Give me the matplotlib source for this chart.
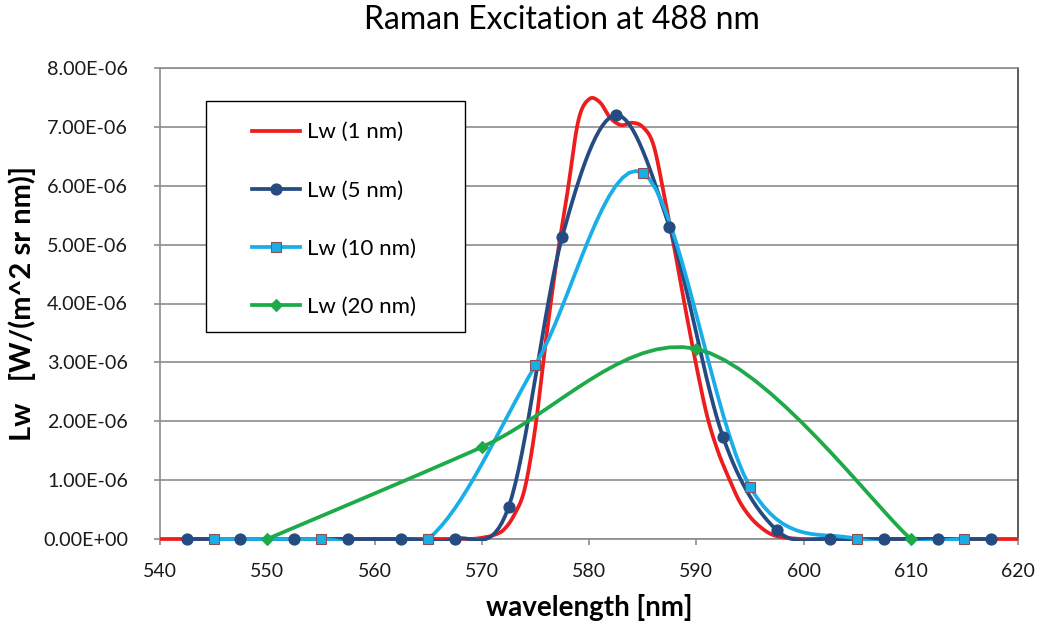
import numpy as np
import matplotlib.pyplot as plt
from matplotlib.lines import Line2D
from matplotlib.patches import Rectangle
from matplotlib.ticker import FuncFormatter, MultipleLocator

plt.rcParams['font.family'] = ['Lato', 'DejaVu Sans']

# --- data (values in W/(m^2 sr nm)) ---
wl_1nm = list(range(540, 621))
lw_1nm = [0, 0, 0, 0, 0, 0, 0, 0, 0, 0,            # 540-549
          0, 0, 0, 0, 0, 0, 0, 0, 0, 0,            # 550-559
          0, 0, 0, 0, 0, 0, 0, 0, 0, 0,            # 560-569
          0.02e-6, 0.06e-6, 0.15e-6, 0.40e-6, 0.85e-6,
          1.90e-6, 3.40e-6, 4.75e-6, 5.90e-6, 7.10e-6,  # 570-579
          7.47e-6, 7.42e-6, 7.15e-6, 7.03e-6, 7.07e-6,
          7.00e-6, 6.70e-6, 5.85e-6, 4.90e-6, 3.90e-6,  # 580-589
          2.95e-6, 2.10e-6, 1.50e-6, 1.05e-6, 0.65e-6,
          0.38e-6, 0.20e-6, 0.08e-6, 0.03e-6, 0.01e-6,  # 590-599
          0, 0, 0, 0, 0, 0, 0, 0, 0, 0,            # 600-609
          0, 0, 0, 0, 0, 0, 0, 0, 0, 0,            # 610-619
          0]                                       # 620

wl_5nm = [542.5, 547.5, 552.5, 557.5, 562.5, 567.5, 572.5, 577.5,
          582.5, 587.5, 592.5, 597.5, 602.5, 607.5, 612.5, 617.5]
lw_5nm = [0, 0, 0, 0, 0, 0, 0.54e-6, 5.13e-6,
          7.20e-6, 5.30e-6, 1.73e-6, 0.15e-6, 0, 0, 0, 0]

wl_10nm = [545, 555, 565, 575, 585, 595, 605, 615]
lw_10nm = [0, 0, 0, 2.95e-6, 6.22e-6, 0.89e-6, 0, 0]

wl_20nm = [550, 570, 590, 610]
lw_20nm = [0, 1.56e-6, 3.23e-6, 0]

labels = ['Lw (1 nm)', 'Lw (5 nm)', 'Lw (10 nm)', 'Lw (20 nm)']


def smooth(xs, ys, n=16):
    # Excel-style smoothed line (Catmull-Rom through the points)
    x = np.r_[xs[0], xs, xs[-1]].astype(float)
    y = np.r_[ys[0], ys, ys[-1]].astype(float)
    t = np.linspace(0, 1, n, endpoint=False)[:, None]
    def seg(p):
        p0, p1, p2, p3 = p[:-3], p[1:-2], p[2:-1], p[3:]
        v = 0.5 * (2 * p1 + (-p0 + p2) * t + (2 * p0 - 5 * p1 + 4 * p2 - p3) * t ** 2
                   + (-p0 + 3 * p1 - 3 * p2 + p3) * t ** 3)
        return np.r_[v.T.ravel(), p[-2]]
    return seg(x), seg(y)


fig = plt.figure(figsize=(10.42, 6.28), dpi=100)
ax = fig.add_axes([160 / 1042, 1 - 539 / 628, 858 / 1042, 471 / 628])

series = [
    (wl_1nm, lw_1nm, '#EE1C1C', None, 0, '#EE1C1C'),
    (wl_5nm, lw_5nm, '#254C82', 'o', 8.0, '#254C82'),
    (wl_10nm, lw_10nm, '#1AAEE8', 's', 7.0, '#8B5050'),
    (wl_20nm, lw_20nm, '#1DAA48', 'D', 6.5, '#1DAA48'),
]

clip = Rectangle((0, -0.005), 1, 1.01, transform=ax.transAxes)
handles = []
for i, (xs, ys, col, mk, ms, mec) in enumerate(series):
    sx, sy = smooth(xs, ys)
    ln, = ax.plot(sx, sy, color=col, lw=2.7, zorder=3 + i, solid_capstyle='round')
    ln.set_clip_path(clip)
    if mk:
        ax.plot(xs, ys, ls='none', marker=mk, ms=ms, mfc=col, mec=mec,
                mew=0.8, zorder=10 + i, clip_on=False)
    handles.append(Line2D([], [], color=col, lw=2.7, marker=mk, ms=ms,
                          mfc=col, mec=mec, mew=0.8))

ax.set_xlim(540, 620)
ax.set_ylim(0, 8e-6)
ax.xaxis.set_major_locator(MultipleLocator(10))
ax.yaxis.set_major_locator(MultipleLocator(1e-6))
ax.yaxis.set_major_formatter(FuncFormatter(lambda v, p: '%.2E' % v))
ax.grid(axis='y', color='#8C8C8C', lw=1.2, zorder=0)
ax.set_axisbelow(True)
for s in ['left', 'bottom', 'top']:
    ax.spines[s].set_color('#8C8C8C')
    ax.spines[s].set_linewidth(1.2)
ax.spines['right'].set_color('#404040')
ax.spines['right'].set_linewidth(1.2)
ax.tick_params(axis='y', length=4.5, width=1.2, color='#8C8C8C', pad=18.5,
               labelsize=14.2, labelcolor='#1A1A1A')
ax.tick_params(axis='x', length=4.5, width=1.2, color='#8C8C8C', pad=12.5,
               labelsize=14, labelcolor='#1A1A1A')

ax.set_xlabel('wavelength [nm]', fontsize=20, fontweight='bold')
ax.xaxis.set_label_coords(0.5, -0.117)
ax.set_ylabel('Lw   [W/(m^2 sr nm)]', fontsize=21, fontweight='bold')
ax.yaxis.set_label_coords(-0.1445, 0.5)
fig.text(0.539, 1 - 20 / 628, 'Raman Excitation at 488 nm', fontsize=23,
         ha='center', va='center')

# legend box drawn by hand so the padding matches the original
ax.add_patch(Rectangle((0.0536, 0.4395), 0.3019, 0.4904, transform=ax.transAxes,
                       facecolor='white', edgecolor='black', lw=1.0, zorder=15))
leg = ax.legend(handles, labels, loc='center left', bbox_to_anchor=(0.1072, 0.678),
                borderaxespad=0, borderpad=0, frameon=False, fontsize=16,
                handlelength=2.16, handletextpad=0.3, labelspacing=1.72,
                numpoints=1)
leg.set_zorder(20)

fig.savefig('out.png', dpi=100)
